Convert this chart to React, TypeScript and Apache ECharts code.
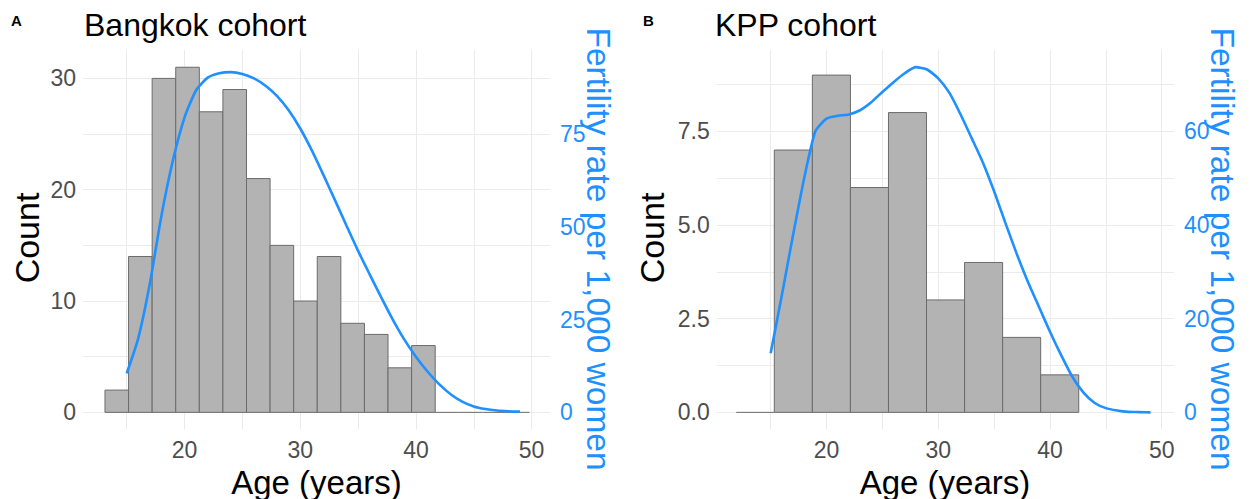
import React, { useEffect, useRef } from "react";
import * as echarts from "echarts";

// ---------- data ----------
const bangkokBinStart = 13.12;
const bangkokBinWidth = 2.039;
const bangkokCounts = [2, 14, 30, 31, 27, 29, 21, 15, 10, 14, 8, 7, 4, 6, 0, 0, 0, 0];

const kppBinStart = 11.92;
const kppBinWidth = 3.406;
const kppCounts = [0, 7, 9, 6, 8, 3, 4, 2, 1];

const fertilityAges = [15, 16, 17, 18, 19, 20, 21, 22, 23, 24, 25, 26, 27, 28, 29, 30, 31, 32, 33, 34, 35, 36, 37, 38, 39, 40, 41, 42, 43, 44, 45, 46, 47, 48, 49];
const bangkokFertility = [10.5, 20, 34.7, 53, 68, 79.5, 86.8, 90.2, 91.4, 91.7, 91.2, 90, 88, 85.2, 81.4, 76.5, 70.6, 64, 57.2, 50.3, 43.5, 37.2, 31, 25, 19.6, 15, 11, 7.6, 4.9, 2.9, 1.6, 0.9, 0.5, 0.3, 0.2];
const kppFertility = [12.6, 25, 37.8, 50, 60, 62.7, 63.3, 63.6, 64.5, 66.2, 68.4, 70.5, 72.4, 73.7, 73.2, 71.3, 68.2, 63.6, 58.5, 53.3, 47.2, 40.5, 34, 28, 22.6, 17.2, 12.2, 7.6, 4.2, 2.0, 0.9, 0.4, 0.1, 0.05, 0];

const xTickLabels = [20, 30, 40, 50];
const xGridValues = [15, 20, 25, 30, 35, 40, 45, 50];
const bangkokCountLabels = [0, 10, 20, 30];
const bangkokCountGrid = [0, 5, 10, 15, 20, 25, 30];
const bangkokFertLabels = [0, 25, 50, 75];
const kppCountLabels = [0, 2.5, 5, 7.5];
const kppCountGrid = [0, 1.25, 2.5, 3.75, 5, 6.25, 7.5, 8.75];
const kppFertLabels = [0, 20, 40, 60];

const bangkokScale = 3; // fertility = count * 3
const kppScale = 8; // fertility = count * 8

// ---------- style ----------
const FONT = "'Liberation Sans', Arial, Helvetica, sans-serif";
const BLUE = "#1E90FF";
const GRID = "#ebebeb";
const TICK = "#4d4d4d";
const BAR_FILL = "#b3b3b3";
const BAR_STROKE = "#6b6b6b";
const TICK_SIZE = 23;

function binsData(start: number, width: number, counts: number[]) {
  return counts.map((c, i) => [start + i * width, start + (i + 1) * width, c]);
}

function histSeries(data: number[][], idx: number) {
  return {
    type: "custom",
    xAxisIndex: idx,
    yAxisIndex: idx * 2,
    coordinateSystem: "cartesian2d",
    z: 2,
    silent: true,
    encode: { x: [0, 1], y: 2 },
    data,
    renderItem: (params: any, api: any) => {
      const x0 = api.value(0);
      const x1 = api.value(1);
      const c = api.value(2);
      const p0 = api.coord([x0, 0]);
      const p1 = api.coord([x1, c]);
      if (c === 0) {
        return {
          type: "line",
          shape: { x1: p0[0], y1: p0[1], x2: p1[0], y2: p0[1] },
          style: { stroke: BAR_STROKE, lineWidth: 1 },
        };
      }
      return {
        type: "rect",
        shape: { x: p0[0], y: p1[1], width: p1[0] - p0[0], height: p0[1] - p1[1] },
        style: { fill: BAR_FILL, stroke: BAR_STROKE, lineWidth: 1 },
      };
    },
  };
}

function xAxis(idx: number, min: number, max: number) {
  return {
    type: "value",
    gridIndex: idx,
    min,
    max,
    axisLine: { show: false },
    axisTick: { show: false, customValues: xGridValues },
    splitLine: { show: true, lineStyle: { color: GRID, width: 1 } },
    axisLabel: {
      customValues: xTickLabels,
      color: TICK,
      fontSize: TICK_SIZE,
      fontFamily: FONT,
      margin: 9,
    },
  };
}

function countAxis(idx: number, min: number, max: number, labels: number[], grid: number[], fmt: (v: number) => string) {
  return {
    type: "value",
    gridIndex: idx,
    position: "left",
    min,
    max,
    axisLine: { show: false },
    axisTick: { show: false, customValues: grid },
    splitLine: { show: true, lineStyle: { color: GRID, width: 1 } },
    axisLabel: {
      customValues: labels,
      color: TICK,
      fontSize: TICK_SIZE,
      fontFamily: FONT,
      margin: 7,
      formatter: fmt,
    },
  };
}

function fertAxis(idx: number, min: number, max: number, labels: number[]) {
  return {
    type: "value",
    gridIndex: idx,
    position: "right",
    min,
    max,
    axisLine: { show: false },
    axisTick: { show: false, customValues: labels },
    splitLine: { show: false },
    axisLabel: {
      customValues: labels,
      color: BLUE,
      fontSize: TICK_SIZE,
      fontFamily: FONT,
      margin: 10,
    },
  };
}

function lineSeries(ages: number[], vals: number[], idx: number) {
  return {
    type: "line",
    xAxisIndex: idx,
    yAxisIndex: idx * 2 + 1,
    data: ages.map((a, i) => [a, vals[i]]),
    showSymbol: false,
    smooth: 0.2,
    z: 5,
    silent: true,
    lineStyle: { color: BLUE, width: 2.6 },
    itemStyle: { color: BLUE },
  };
}

function txt(text: string, x: number, y: number, size: number, opts: any = {}) {
  return {
    type: "text",
    x,
    y,
    rotation: opts.rotation || 0,
    silent: true,
    style: {
      text,
      fill: opts.fill || "#000",
      font: `${opts.weight || "normal"} ${size}px ${FONT}`,
      textAlign: opts.align || "left",
      textVerticalAlign: "middle",
    },
  };
}

export default function App() {
  const ref = useRef<HTMLDivElement>(null);

  useEffect(() => {
    if (!ref.current) return;
    const chart = echarts.init(ref.current, undefined, { renderer: "svg" });

    const bMin = -1.55;
    const bMax = 32.55;
    const kMin = -0.4605;
    const kMax = 9.67;

    const option: any = {
      animation: false,
      backgroundColor: "#ffffff",
      textStyle: { fontFamily: FONT },
      grid: [
        { left: 83, top: 50, width: 467, height: 379.6, containLabel: false, outerBoundsMode: "none" },
        { left: 716.7, top: 50, width: 457.3, height: 379.6, containLabel: false, outerBoundsMode: "none" },
      ],
      xAxis: [xAxis(0, 11.22, 51.59), xAxis(1, 10.17, 51.1)],
      yAxis: [
        countAxis(0, bMin, bMax, bangkokCountLabels, bangkokCountGrid, (v) => String(v)),
        fertAxis(0, bMin * bangkokScale, bMax * bangkokScale, bangkokFertLabels),
        countAxis(1, kMin, kMax, kppCountLabels, kppCountGrid, (v) => Number(v).toFixed(1)),
        fertAxis(1, kMin * kppScale, kMax * kppScale, kppFertLabels),
      ],
      series: [
        histSeries(binsData(bangkokBinStart, bangkokBinWidth, bangkokCounts), 0),
        lineSeries(fertilityAges, bangkokFertility, 0),
        histSeries(binsData(kppBinStart, kppBinWidth, kppCounts), 1),
        lineSeries(fertilityAges, kppFertility, 1),
      ],
      graphic: [
        txt("A", 11, 20, 15, { weight: "bold" }),
        txt("Bangkok cohort", 84, 25, 32),
        txt("B", 643, 20, 15, { weight: "bold" }),
        txt("KPP cohort", 715, 25, 32),
        txt("Age (years)", 316.5, 482, 33, { align: "center" }),
        txt("Age (years)", 945, 482, 33, { align: "center" }),
        txt("Count", 27, 238, 34, { align: "center", rotation: Math.PI / 2 }),
        txt("Count", 652, 238, 34, { align: "center", rotation: Math.PI / 2 }),
        txt("Fertility rate per 1,000 women", 598, 249, 33.5, { align: "center", rotation: -Math.PI / 2, fill: BLUE }),
        txt("Fertility rate per 1,000 women", 1222, 249, 33.5, { align: "center", rotation: -Math.PI / 2, fill: BLUE }),
      ],
    };

    chart.setOption(option);
    return () => chart.dispose();
  }, []);

  return (
    <div
      ref={ref}
      style={{ position: "fixed", left: 0, top: 0, width: 1251, height: 499, background: "#fff" }}
    />
  );
}
